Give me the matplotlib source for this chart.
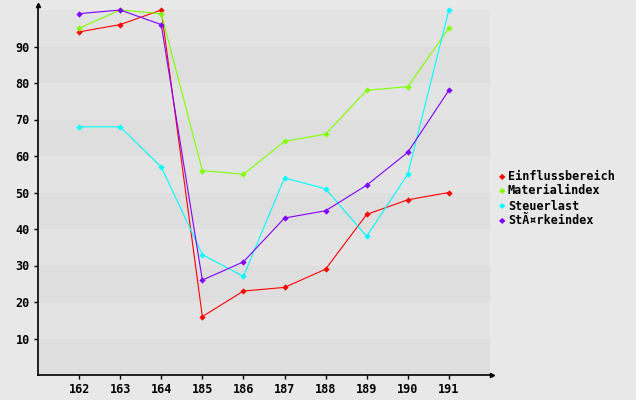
import matplotlib
matplotlib.use("Agg")
import matplotlib.pyplot as plt

categories = ["162", "163", "164", "185", "186", "187", "188", "189", "190", "191"]
series_names = ["Einflussbereich", "Materialindex", "Steuerlast", "StÃ¤rkeindex"]
einfluss = [94, 96, 100, 16, 23, 24, 29, 44, 48, 50]
material = [95, 100, 99, 56, 55, 64, 66, 78, 79, 95]
steuer = [68, 68, 57, 33, 27, 54, 51, 38, 55, 100]
staerke = [99, 100, 96, 26, 31, 43, 45, 52, 61, 78]
colors = ["#ff0000", "#80ff00", "#00ffff", "#8000ff"]
yticks = [10, 20, 30, 40, 50, 60, 70, 80, 90]

W, H = 636, 400
fig = plt.figure(figsize=(W / 100, H / 100), dpi=100)
fig.patch.set_facecolor("#e8e8e8")
left, right, bottom, top = 38, 492, 375, 5
ax = fig.add_axes([left / W, 1 - bottom / H, (right - left) / W, (bottom - top) / H])
ax.set_facecolor("#e8e8e8")

n = len(categories)
xs = list(range(n))
ax.set_xlim(-1, n + 0.05)
ax.set_ylim(0, (bottom - top) / 3.65)

# bands
for i in range(10):
    c = "#dedede" if i % 2 == 0 else "#e3e3e3"
    ax.fill_between([-1, n], i * 10, (i + 1) * 10, color=c, lw=0, zorder=0)

for vals, col in zip([einfluss, material, steuer, staerke], colors):
    ax.plot(xs, vals, color=col, lw=0.8, marker="D", markersize=3.2,
            markeredgewidth=0, zorder=3)

font = dict(family="DejaVu Sans Mono", weight="bold", size=8.5)
ax.set_xticks(xs)
ax.set_xticklabels(categories, **font)
ax.set_yticks(yticks)
ax.set_yticklabels([str(v) for v in yticks], **font)
ax.tick_params(axis="both", direction="out", length=3, width=1, color="black")
ax.tick_params(axis="x", pad=3)
ax.tick_params(axis="y", pad=3)

for s in ["top", "right"]:
    ax.spines[s].set_visible(False)
for s in ["left", "bottom"]:
    ax.spines[s].set_linewidth(1.2)
ax.plot(1, 0, ">k", transform=ax.transAxes, clip_on=False, markersize=3)
ax.plot(0, 1, "^k", transform=ax.transAxes, clip_on=False, markersize=3)

# legend
lx = 502
ly = [177, 191, 206, 221]
for name, col, y in zip(series_names, colors, ly):
    fig.text(lx / W, 1 - y / H, "\u25c6", color=col, fontsize=6, ha="center", va="center",
             family="DejaVu Sans")
    fig.text((lx + 6) / W, 1 - y / H, name, color="black", ha="left", va="center", **font)

fig.savefig("out.png", dpi=100, facecolor=fig.get_facecolor())
